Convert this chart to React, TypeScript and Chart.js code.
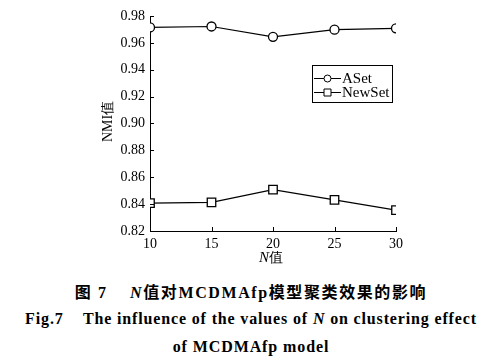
import React, { useEffect, useRef } from "react";
import { Chart, registerables } from "chart.js";

Chart.register(...registerables);

const nValues = [10, 15, 20, 25, 30];
const asetValues = [0.9715, 0.9722, 0.9645, 0.9698, 0.9708];
const newsetValues = [0.8408, 0.8413, 0.8508, 0.8432, 0.8355];
const yTicks = [0.82, 0.84, 0.86, 0.88, 0.9, 0.92, 0.94, 0.96, 0.98];
const seriesNames = ["ASet", "NewSet"];
const yTitle = "NMI值";

const SERIF = "'Liberation Serif', 'Times New Roman', serif";

const overlay = {
  id: "overlay",
  afterDraw(chart: any) {
    const ctx = chart.ctx as CanvasRenderingContext2D;
    const { left, right, top, bottom } = chart.chartArea;
    const xs = chart.scales.x;
    const ys = chart.scales.y;
    ctx.save();
    ctx.strokeStyle = "#000";
    ctx.lineWidth = 1;
    // inward ticks
    ctx.beginPath();
    for (const v of nValues) {
      const px = Math.round(xs.getPixelForValue(v)) + 0.5;
      ctx.moveTo(px, bottom);
      ctx.lineTo(px, bottom - 4);
    }
    for (const v of yTicks) {
      const py = Math.round(ys.getPixelForValue(v)) + 0.5;
      ctx.moveTo(left, py);
      ctx.lineTo(left + 4, py);
    }
    ctx.stroke();

    // y title
    ctx.fillStyle = "#000";
    ctx.font = `14px ${SERIF}`;
    ctx.textAlign = "center";
    ctx.textBaseline = "middle";
    ctx.save();
    ctx.translate(left - 42, 121.5);
    ctx.rotate(-Math.PI / 2);
    ctx.fillText(yTitle, 0, 0);
    ctx.restore();

    // x title: italic N + 值
    const cx = (left + right) / 2 - 2;
    const ty = 258;
    ctx.font = `italic 15px ${SERIF}`;
    const wN = ctx.measureText("N").width;
    ctx.font = `14px ${SERIF}`;
    const wV = ctx.measureText("值").width;
    const start = cx - (wN + wV) / 2;
    ctx.textAlign = "left";
    ctx.font = `italic 15px ${SERIF}`;
    ctx.fillText("N", start, ty);
    ctx.font = `14px ${SERIF}`;
    ctx.fillText("值", start + wN, ty);

    // legend
    const bx = 312.5, by = 65.5, bw = 80, bh = 37;
    ctx.strokeRect(bx, by, bw, bh);
    const items = [
      { name: seriesNames[0], y: 78, style: "circle" },
      { name: seriesNames[1], y: 92, style: "rect" },
    ];
    for (const it of items) {
      ctx.beginPath();
      ctx.moveTo(314, it.y + 0.5);
      ctx.lineTo(341, it.y + 0.5);
      ctx.stroke();
      ctx.beginPath();
      if (it.style === "circle") {
        ctx.arc(327.5, it.y + 0.5, 3.5, 0, Math.PI * 2);
      } else {
        ctx.rect(324, it.y - 3, 7, 7);
      }
      ctx.fillStyle = "#fff";
      ctx.fill();
      ctx.stroke();
      ctx.fillStyle = "#000";
      ctx.font = `15px ${SERIF}`;
      ctx.textAlign = "left";
      ctx.textBaseline = "middle";
      ctx.fillText(it.name, 342, it.y + 1);
    }
    ctx.restore();
  },
};

export default function App() {
  const ref = useRef<HTMLCanvasElement>(null);
  useEffect(() => {
    if (!ref.current) return;
    const chart = new Chart(ref.current, {
      type: "line",
      data: {
        datasets: [
          {
            label: seriesNames[0],
            data: nValues.map((n, i) => ({ x: n, y: asetValues[i] })),
            borderColor: "#000",
            borderWidth: 1.2,
            backgroundColor: "#fff",
            pointStyle: "circle",
            pointRadius: 4.5,
            pointBorderWidth: 1.3,
            pointBackgroundColor: "#fff",
            pointBorderColor: "#000",
            tension: 0,
          },
          {
            label: seriesNames[1],
            data: nValues.map((n, i) => ({ x: n, y: newsetValues[i] })),
            borderColor: "#000",
            borderWidth: 1.2,
            backgroundColor: "#fff",
            pointStyle: "rect",
            pointRadius: 6,
            pointBorderWidth: 1.3,
            pointBackgroundColor: "#fff",
            pointBorderColor: "#000",
            tension: 0,
          },
        ],
      },
      options: {
        animation: false,
        responsive: false,
        maintainAspectRatio: false,
        layout: { padding: { left: 0, right: 106, top: 16, bottom: 0 } },
        plugins: {
          legend: { display: false },
          tooltip: { enabled: false },
        },
        scales: {
          x: {
            type: "linear",
            min: 10,
            max: 30,
            afterFit: (s: any) => { s.height = 39; },
            afterBuildTicks: (s: any) => { s.ticks = nValues.map((v) => ({ value: v })); },
            grid: { display: false, drawTicks: false },
            border: { display: true, color: "#000", width: 1 },
            ticks: {
              color: "#000",
              padding: 5,
              font: { family: SERIF, size: 14 },
              maxRotation: 0,
              callback: (v: any) => String(v),
            },
          },
          y: {
            type: "linear",
            min: 0.82,
            max: 0.98,
            afterFit: (s: any) => { s.width = 150; },
            afterBuildTicks: (s: any) => { s.ticks = yTicks.map((v) => ({ value: v })); },
            grid: { display: false, drawTicks: false },
            border: { display: true, color: "#000", width: 1 },
            ticks: {
              color: "#000",
              padding: 5,
              font: { family: SERIF, size: 14 },
              callback: (v: any) => Number(v).toFixed(2),
            },
          },
        },
      },
      plugins: [overlay],
    });
    return () => chart.destroy();
  }, []);

  const cap: React.CSSProperties = {
    position: "absolute",
    left: 0,
    width: 502,
    textAlign: "center",
    fontWeight: "bold",
    color: "#000",
    whiteSpace: "nowrap",
    lineHeight: "20px",
  };

  return (
    <div style={{ position: "absolute", left: 0, top: 0, width: 502, height: 361, background: "#fff", overflow: "hidden" }}>
      <canvas ref={ref} width={502} height={270} style={{ position: "absolute", left: 0, top: 0, width: 502, height: 270 }} />
      <div style={{ ...cap, top: 281, fontSize: 16, fontFamily: `${SERIF}, 'Noto Sans CJK SC'`, letterSpacing: "1.6px" }}>
        <span style={{ fontFamily: "'Noto Sans CJK SC'" }}>图</span> 7&nbsp;&nbsp;&nbsp;&nbsp;<i>N</i>
        <span style={{ fontFamily: "'Noto Sans CJK SC'" }}>值对</span>MCDMAfp
        <span style={{ fontFamily: "'Noto Sans CJK SC'" }}>模型聚类效果的影响</span>
      </div>
      <div style={{ ...cap, top: 309, fontSize: 16, fontFamily: SERIF, letterSpacing: "0.85px" }}>
        Fig.7&nbsp;&nbsp;&nbsp;&nbsp;The influence of the values of <i>N</i> on clustering effect
      </div>
      <div style={{ ...cap, top: 337, fontSize: 16, fontFamily: SERIF, letterSpacing: "0.9px" }}>
        of MCDMAfp model
      </div>
    </div>
  );
}
